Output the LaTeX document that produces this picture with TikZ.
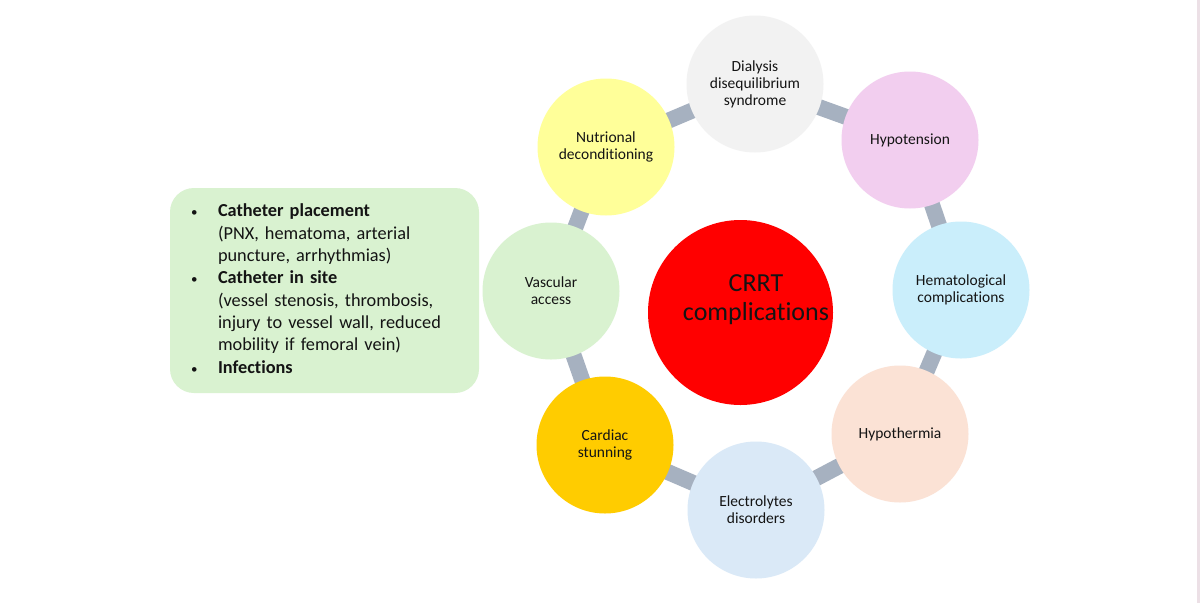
\documentclass[tikz,border=0pt]{standalone}
\usepackage{fontspec}
\setmainfont{Carlito}[Ligatures={NoCommon}]
\usetikzlibrary{backgrounds}
\definecolor{cDial}{RGB}{242,242,242}
\definecolor{cHypo}{RGB}{242,206,239}
\definecolor{cHema}{RGB}{202,238,251}
\definecolor{cTher}{RGB}{251,226,213}
\definecolor{cElec}{RGB}{218,233,247}
\definecolor{cCard}{RGB}{255,204,0}
\definecolor{cVasc}{RGB}{217,242,208}
\definecolor{cNutr}{RGB}{255,255,153}
\definecolor{cBox}{RGB}{217,242,208}
\definecolor{connc}{RGB}{166,177,192}
\definecolor{edgec}{RGB}{236,224,230}
\definecolor{txt}{RGB}{20,20,20}
\newcommand{\mybul}{{\fontsize{13}{13}\selectfont\textbullet}}
\begin{document}
\begin{tikzpicture}[x=1pt,y=-1pt,
  bub/.style={circle, minimum size=137pt, inner sep=0pt, align=center,
    font=\fontsize{15.5}{17}\selectfont, text=txt},
  conn/.style={line width=16pt, draw=connc},
  boxstyle/.style={rounded corners=24pt, fill=cBox, minimum width=309pt,
    minimum height=205pt, text width=267pt, inner xsep=21pt, align=left,
    font=\fontsize{18.3}{22.3}\selectfont, text=txt}
]
\useasboundingbox (0,0) rectangle (1200,603);
\node[bub, fill=cDial] (dial) at (755,84) {Dialysis\\disequilibrium\\syndrome};
\node[bub, fill=cHypo] (hypo) at (910,140) {Hypotension};
\node[bub, fill=cHema] (hema) at (961,290) {Hematological\\complications};
\node[bub, fill=cTher] (ther) at (900,434) {Hypothermia};
\node[bub, fill=cElec] (elec) at (756,510) {Electrolytes\\disorders};
\node[bub, fill=cCard] (card) at (605,445) {Cardiac\\stunning};
\node[bub, fill=cVasc] (vasc) at (551,291) {Vascular\\access};
\node[bub, fill=cNutr] (nutr) at (606,147) {Nutrional\\deconditioning};
\node[circle, minimum size=185pt, inner sep=0pt, fill=red] (crrt) at (740.5,312.5) {};
\node[font=\fontsize{26}{29}\selectfont, align=center, text=txt, inner sep=0pt]
  (crrttext) at (756,300) {CRRT\\complications};
\node[boxstyle] (box) at (324.5,290.5) {%
\begin{tabular}{@{}p{27pt}@{}l@{}}
\mybul & \textbf{Catheter placement}\\
 & (PNX, hematoma, arterial\\
 & puncture, arrhythmias)\\
\mybul & \textbf{Catheter in site}\\
 & (vessel stenosis, thrombosis,\\
 & injury to vessel wall, reduced\\
 & mobility if femoral vein)\\
\mybul & \textbf{Infections}
\end{tabular}};
\begin{scope}[on background layer]
\fill[white] (0,0) rectangle (1200,603);
\fill[edgec] (1197,0) rectangle (1200,603);
\draw[conn] (dial.center) -- (hypo.center);
\draw[conn] (hypo.center) -- (hema.center);
\draw[conn] (hema.center) -- (ther.center);
\draw[conn] (ther.center) -- (elec.center);
\draw[conn] (elec.center) -- (card.center);
\draw[conn] (card.center) -- (vasc.center);
\draw[conn] (vasc.center) -- (nutr.center);
\draw[conn] (nutr.center) -- (dial.center);
\end{scope}
\end{tikzpicture}
\end{document}
